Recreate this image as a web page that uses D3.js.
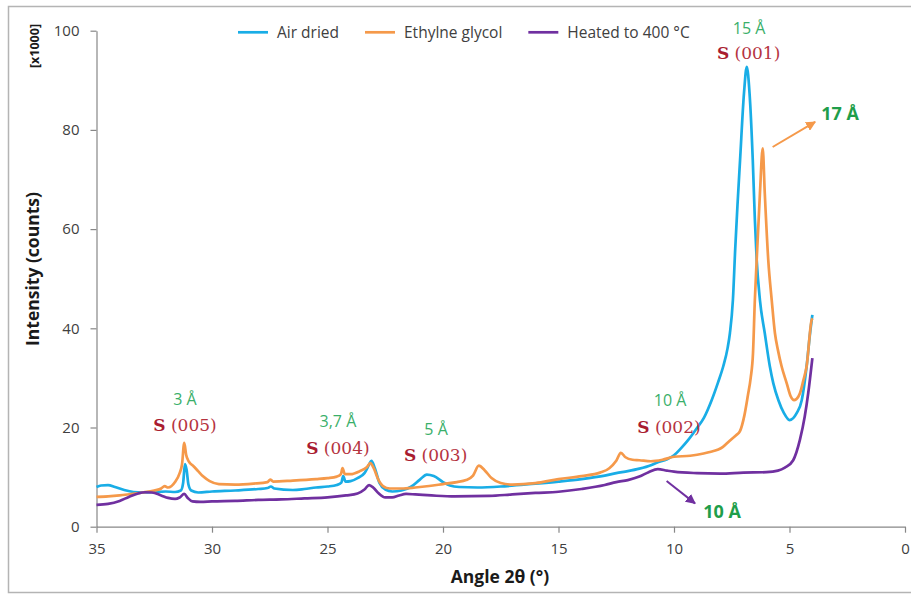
<!DOCTYPE html>
<html><head><meta charset="utf-8">
<script src="https://cdn.jsdelivr.net/npm/d3@7"></script>
<style>body{margin:0;background:#fff}svg{display:block}</style>
</head><body><svg id="c" width="911" height="595"></svg>
<script>
const xTicks=[35,30,25,20,15,10,5,0];
const yTicks=[0,20,40,60,80,100];
const seriesNames=["Air dried","Ethylne glycol","Heated to 400 °C"];
const seriesColors=["#19ade6","#f5994a","#7030a0"];

const airDried=[[35,8.0],[34.8,8.3],[34.5,8.4],[34.2,8.0],[33.8,7.4],[33.4,7.0],[33,6.9],[32.5,7.0],[32,7.1],[31.6,7.0],[31.35,7.3],[31.25,8.8],[31.17,12.6],[31.1,11.5],[31.02,8.5],[30.9,7.3],[30.6,6.9],[30,7.1],[29,7.3],[28,7.6],[27.6,7.8],[27.45,8.1],[27.3,7.7],[26.5,7.4],[26,7.6],[25.5,7.9],[25,8.1],[24.6,8.4],[24.4,8.9],[24.32,10.2],[24.22,9.1],[24,9.2],[23.7,9.8],[23.4,10.8],[23.2,12.5],[23.1,13.3],[22.95,11.8],[22.75,8.8],[22.5,7.5],[22.2,7.1],[21.8,7.3],[21.4,8.0],[21.0,9.5],[20.7,10.5],[20.4,10.2],[20.0,9.0],[19.7,8.3],[19.3,8.0],[18.5,7.9],[17.5,8.1],[16.5,8.5],[15,9.1],[14,9.6],[13,10.3],[12.5,10.8],[12,11.2],[11.5,11.7],[11,12.4],[10.75,12.9],[10.3,13.6],[10.0,14.4],[9.7,15.8],[9.4,17.4],[9.02,19.8],[8.7,22.0],[8.37,25.5],[8.1,29],[7.87,32.3],[7.68,36],[7.58,39],[7.45,45.7],[7.35,56],[7.25,65],[7.14,73.9],[6.97,87.4],[6.85,92.7],[6.73,87.4],[6.59,73.9],[6.5,62],[6.42,53.8],[6.28,45.7],[6.07,39],[5.85,32.3],[5.7,28.9],[5.48,25.5],[5.24,22.9],[5.0,21.5],[4.69,22.9],[4.47,25.5],[4.26,32.3],[4.11,39],[4.01,42.7]];

const ethyleneGlycol=[[35,6.0],[34.5,6.1],[34,6.3],[33.5,6.6],[33,6.9],[32.5,7.3],[32.2,7.7],[32.05,8.2],[31.9,7.9],[31.6,9.0],[31.4,10.8],[31.3,12.5],[31.2,16.9],[31.12,14.5],[31.0,13.1],[30.8,12.2],[30.6,11.2],[30.4,10.2],[30.1,9.2],[29.7,8.6],[29,8.5],[28.2,8.7],[27.6,9.0],[27.48,9.5],[27.35,9.1],[26.5,9.3],[25.5,9.6],[25,9.8],[24.6,10.1],[24.42,10.6],[24.35,11.8],[24.25,10.6],[24.0,10.6],[23.6,11.2],[23.3,12.0],[23.15,12.8],[23.0,11.8],[22.8,9.5],[22.6,8.2],[22.3,7.7],[21.8,7.7],[21.2,7.9],[20.6,8.2],[20.0,8.6],[19.4,9.0],[19.0,9.4],[18.7,10.3],[18.45,12.3],[18.2,11.4],[17.9,9.8],[17.5,8.8],[17.0,8.5],[16,8.8],[15,9.6],[14,10.2],[13.2,10.9],[12.8,11.8],[12.5,13.3],[12.3,14.9],[12.1,14.0],[11.8,13.5],[11.5,13.4],[11,13.2],[10.5,13.5],[10,14.1],[9.3,14.3],[9,14.5],[8.5,15],[7.88,16.1],[7.6,17.3],[7.3,18.5],[7.15,19.2],[6.95,22.5],[6.8,26.5],[6.68,30],[6.58,35],[6.5,45.7],[6.42,53.8],[6.28,67.2],[6.16,76.3],[6.07,67.2],[5.92,53.8],[5.77,45.7],[5.63,39],[5.5,35.6],[5.34,32.3],[5.12,28.9],[4.95,26.3],[4.8,25.5],[4.62,26.2],[4.54,27],[4.4,29.5],[4.26,32.3],[4.04,41.7],[4.0,42]];

const heated400=[[35,4.4],[34.5,4.6],[34,5.2],[33.6,6.0],[33.2,6.7],[32.9,6.95],[32.6,6.9],[32.2,6.3],[31.9,5.8],[31.6,5.6],[31.4,5.9],[31.2,6.6],[31.05,5.8],[30.85,5.1],[30.5,5.0],[30,5.1],[29,5.2],[28,5.4],[27,5.5],[26,5.7],[25,5.9],[24.2,6.3],[23.7,6.7],[23.4,7.5],[23.2,8.4],[23.0,7.8],[22.8,6.8],[22.5,5.9],[22.2,5.9],[21.9,6.3],[21.6,6.6],[21.2,6.5],[20.5,6.3],[19.5,6.1],[18,6.2],[17,6.5],[16,6.8],[15,7.05],[14,7.6],[13,8.4],[12.5,9.0],[12,9.4],[11.5,10.1],[11.1,11.0],[10.7,11.6],[10.3,11.3],[10,11.1],[9,10.8],[8,10.7],[7,10.9],[6,11.0],[5.5,11.3],[5.2,11.9],[4.84,13.4],[4.55,17.5],[4.34,22.2],[4.19,26.9],[4.01,34.0]];

// peak labels: [angle, value, text]
const spacingLabels=[[6.75,100.5,"15 Å"],[31.17,25.7,"3 Å"],[24.55,21.2,"3,7 Å"],[20.3,19.7,"5 Å"],[10.17,25.4,"10 Å"]];
const reflectionLabels=[[6.77,95.5,"(001)"],[31.17,20.5,"(005)"],[24.55,15.9,"(004)"],[20.32,14.5,"(003)"],[10.22,20.2,"(002)"]];
const boldLabels=[[2.81,83.4,"17 Å"],[7.92,3.0,"10 Å"]];
const arrows=[[5.73,76.55,3.89,81.6,1],[10.32,9.2,9.09,4.7,2]];

const svg=d3.select("#c");
const x=d3.scaleLinear().domain([35,0]).range([96.5,905]);
const y=d3.scaleLinear().domain([0,100]).range([526.7,30.7]);
const sans="'Open Sans', Lato, sans-serif";
const serif="'DejaVu Serif', serif";

// frame
svg.append("rect").attr("x",8.5).attr("y",6.5).attr("width",930).attr("height",586)
  .attr("fill","none").attr("stroke","#b4b4b4").attr("stroke-width",1.5);

const axisColor="#878787";
const gx=svg.append("g").attr("transform",`translate(0,${y(0)})`)
  .call(d3.axisBottom(x).tickValues(xTicks).tickSize(6).tickSizeOuter(0).tickPadding(11).tickFormat(d3.format("d")));
const gy=svg.append("g").attr("transform",`translate(${x(35)},0)`)
  .call(d3.axisLeft(y).tickValues(yTicks).tickSize(6).tickSizeOuter(0).tickPadding(11));
[gx,gy].forEach(g=>{
  g.select(".domain").attr("stroke",axisColor).attr("stroke-width",1.2);
  g.selectAll(".tick line").attr("stroke",axisColor).attr("stroke-width",1.2);
  g.selectAll(".tick text").attr("fill","#404040").style("font-family",sans).style("font-size","15px");
});

// axis titles
svg.append("text").attr("transform",`translate(39,269) rotate(-90)`).attr("text-anchor","middle")
  .style("font-family",sans).style("font-size","17.5px").style("font-weight","bold").attr("fill","#1a1a1a")
  .text("Intensity (counts)");
svg.append("text").attr("transform",`translate(38.5,46) rotate(-90)`).attr("text-anchor","middle")
  .style("font-family",sans).style("font-size","12.5px").style("font-weight","bold").attr("fill","#1a1a1a")
  .text("[x1000]");
svg.append("text").attr("x",500).attr("y",583).attr("text-anchor","middle")
  .style("font-family",sans).style("font-size","17.5px").style("font-weight","bold").attr("fill","#1a1a1a")
  .text("Angle 2θ (°)");

// lines
const line=d3.line().x(d=>x(d[0])).y(d=>y(d[1])).curve(d3.curveMonotoneX);
[airDried,ethyleneGlycol,heated400].forEach((s,i)=>{
  svg.append("path").datum(s).attr("d",line).attr("fill","none")
    .attr("stroke",seriesColors[i]).attr("stroke-width",2.7).attr("stroke-linejoin","round");
});

// legend
let lx=238;
const ly=32.3;
seriesNames.forEach((n,i)=>{
  svg.append("line").attr("x1",lx).attr("x2",lx+30).attr("y1",ly).attr("y2",ly)
    .attr("stroke",seriesColors[i]).attr("stroke-width",2.7);
  const t=svg.append("text").attr("x",lx+39).attr("y",ly+5.5).attr("fill","#404040")
    .style("font-family",sans).style("font-size","15.5px").text(n);
  lx+=39+t.node().getComputedTextLength()+26;
});

// annotations
const green="#3aaf6a", greenBold="#1f9e4a", red="#a91c30", red2="#b5333f";
spacingLabels.forEach(d=>{
  svg.append("text").attr("x",x(d[0])).attr("y",y(d[1])).attr("dy","0.36em").attr("text-anchor","middle")
    .attr("fill",green).style("font-family",sans).style("font-size","16px").text(d[2]);
});
reflectionLabels.forEach(d=>{
  const t=svg.append("text").attr("x",x(d[0])).attr("y",y(d[1])).attr("dy","0.36em").attr("text-anchor","middle")
    .style("font-family",serif).style("font-size","17px");
  t.append("tspan").attr("fill",red).style("font-weight","bold").text("S");
  t.append("tspan").attr("fill",red2).text(" "+d[2]);
});
boldLabels.forEach(d=>{
  svg.append("text").attr("x",x(d[0])).attr("y",y(d[1])).attr("dy","0.36em").attr("text-anchor","middle")
    .attr("fill",greenBold).style("font-family",sans).style("font-size","18px").style("font-weight","bold").text(d[2]);
});
const defs=svg.append("defs");
[1,2].forEach(i=>{
  defs.append("marker").attr("id","ah"+i).attr("viewBox","0 0 10 10").attr("refX",9).attr("refY",5)
    .attr("markerWidth",5).attr("markerHeight",5).attr("orient","auto").attr("markerUnits","strokeWidth")
    .append("path").attr("d","M0,0L10,5L0,10z").attr("fill",seriesColors[i]);
});
arrows.forEach(a=>{
  svg.append("line").attr("x1",x(a[0])).attr("y1",y(a[1])).attr("x2",x(a[2])).attr("y2",y(a[3]))
    .attr("stroke",seriesColors[a[4]]).attr("stroke-width",2).attr("marker-end",`url(#ah${a[4]})`);
});
</script></body></html>
